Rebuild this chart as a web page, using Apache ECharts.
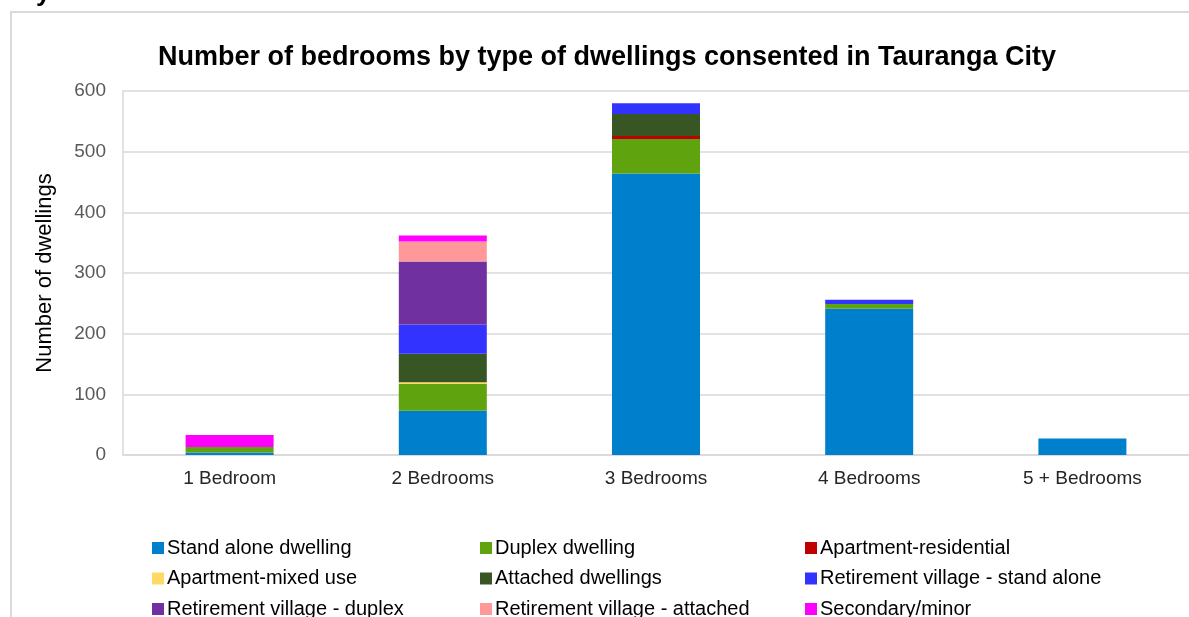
<!DOCTYPE html>
<html>
<head>
<meta charset="utf-8">
<script src="https://cdn.jsdelivr.net/npm/echarts@6/dist/echarts.min.js"></script>
<style>
html,body{margin:0;padding:0;background:#fff;}
#main{width:1189px;height:617px;}
</style>
</head>
<body>
<div id="main"></div>
<script>
var categories = ['1 Bedroom', '2 Bedrooms', '3 Bedrooms', '4 Bedrooms', '5 + Bedrooms'];
var standAlone  = [4, 73, 464, 241, 27];
var duplex      = [9, 44, 57, 8, 0];
var aptRes      = [0, 0, 5, 0, 0];
var aptMixed    = [0, 3, 0, 0, 0];
var attached    = [0, 47, 36, 0, 0];
var retStand    = [0, 48, 18, 7, 0];
var retDuplex   = [0, 104, 0, 0, 0];
var retAttached = [0, 33, 0, 0, 0];
var secondary   = [20, 10, 0, 0, 0];

var seriesNames = ['Stand alone dwelling', 'Duplex dwelling', 'Apartment-residential',
	'Apartment-mixed use', 'Attached dwellings', 'Retirement village - stand alone',
	'Retirement village - duplex', 'Retirement village - attached', 'Secondary/minor'];
var seriesData = [standAlone, duplex, aptRes, aptMixed, attached, retStand, retDuplex, retAttached, secondary];
var colorList = ['#0080cc', '#5fa30f', '#c00000', '#ffd966', '#375623', '#3333ff', '#7030a0', '#ff9999', '#ff00ff'];

var font = 'Liberation Sans, Arial, sans-serif';
var chart = echarts.init(document.getElementById('main'));

var series = [];
for (var i = 0; i < seriesNames.length; i++) {
	series.push({
		name: seriesNames[i],
		type: 'bar',
		stack: 'total',
		barWidth: 88,
		data: seriesData[i],
		itemStyle: {color: colorList[i]}
	});
}

//图例分三列
function legendCol(left, names) {
	return {
		orient: 'vertical',
		left: left,
		top: 538,
		height: 200,
		itemWidth: 12,
		itemHeight: 12,
		itemGap: 10.5,
		icon: 'rect',
		padding: 0,
		data: names,
		textStyle: {fontFamily: font, fontSize: 20, color: '#000', lineHeight: 20, padding: [0, 0, 0, -2]}
	};
}

var option = {
	animation: false,
	color: colorList,
	title: {
		text: 'Number of bedrooms by type of dwellings consented in Tauranga City',
		left: 602,
		top: 39,
		textAlign: 'center',
		textStyle: {fontFamily: font, fontSize: 27, fontWeight: 'bold', color: '#000'}
	},
	graphic: [{
		type: 'rect',
		shape: {x: 11, y: 12, width: 1400, height: 800},
		style: {fill: 'none', stroke: '#d9d9d9', lineWidth: 2},
		silent: true
	}, {
		type: 'text',
		left: 36,
		top: -19,
		style: {text: 'y', fontFamily: font, fontSize: 26, fontWeight: 'bold', fill: '#000'}
	}],
	legend: [
		legendCol(152, [seriesNames[0], seriesNames[3], seriesNames[6]]),
		legendCol(480, [seriesNames[1], seriesNames[4], seriesNames[7]]),
		legendCol(805, [seriesNames[2], seriesNames[5], seriesNames[8]])
	],
	grid: {left: 123, right: 0, top: 91, bottom: 162},
	xAxis: {
		type: 'category',
		data: categories,
		axisTick: {show: false},
		axisLine: {lineStyle: {color: '#d9d9d9', width: 1.5}},
		axisLabel: {fontFamily: font, fontSize: 19, color: '#262626', margin: 14}
	},
	yAxis: {
		type: 'value',
		min: 0,
		max: 600,
		interval: 100,
		name: 'Number of dwellings',
		nameLocation: 'middle',
		nameGap: 67,
		nameTextStyle: {fontFamily: font, fontSize: 22, color: '#000'},
		axisLine: {show: true, lineStyle: {color: '#d9d9d9', width: 1.5}},
		axisTick: {show: false},
		axisLabel: {fontFamily: font, fontSize: 19, color: '#595959', margin: 17},
		splitLine: {lineStyle: {color: '#d9d9d9', width: 1.5}}
	},
	series: series
};
chart.setOption(option);
</script>
</body>
</html>
